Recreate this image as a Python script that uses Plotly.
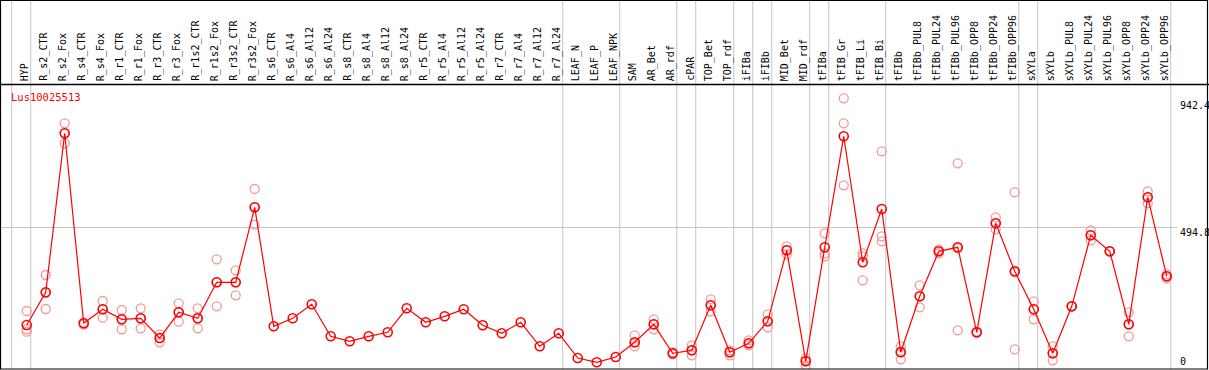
import plotly.graph_objects as go

categories = ["HYP", "R_s2_CTR", "R_s2_Fox", "R_s4_CTR", "R_s4_Fox", "R_r1_CTR", "R_r1_Fox",
              "R_r3_CTR", "R_r3_Fox", "R_r1s2_CTR", "R_r1s2_Fox", "R_r3s2_CTR", "R_r3s2_Fox",
              "R_s6_CTR", "R_s6_Al4", "R_s6_Al12", "R_s6_Al24", "R_s8_CTR", "R_s8_Al4",
              "R_s8_Al12", "R_s8_Al24", "R_r5_CTR", "R_r5_Al4", "R_r5_Al12", "R_r5_Al24",
              "R_r7_CTR", "R_r7_Al4", "R_r7_Al12", "R_r7_Al24", "LEAF_N", "LEAF_P", "LEAF_NPK",
              "SAM", "AR_Bet", "AR_rdf", "cPAR", "TOP_Bet", "TOP_rdf", "iFIBa", "iFIBb",
              "MID_Bet", "MID_rdf", "tFIBa", "tFIB_Gr", "tFIB_Li", "tFIB_Bi", "tFIBb",
              "tFIBb_PUL8", "tFIBb_PUL24", "tFIBb_PUL96", "tFIBb_OPP8", "tFIBb_OPP24",
              "tFIBb_OPP96", "sXYLa", "sXYLb", "sXYLb_PUL8", "sXYLb_PUL24", "sXYLb_PUL96",
              "sXYLb_OPP8", "sXYLb_OPP24", "sXYLb_OPP96"]

mean_values = [153.7, 268.6, 827.7, 159.6, 208.9, 173.7, 177.2, 107.9, 198.3, 177.2, 303.8,
               303.8, 567.5, 149.1, 177.2, 226.4, 113.9, 96.3, 113.9, 128.0, 212.4, 163.2,
               184.2, 208.9, 152.6, 124.5, 163.2, 78.8, 124.5, 37.6, 22.5, 41.1, 92.8, 156.1,
               54.1, 64.7, 222.9, 57.7, 89.3, 166.7, 416.3, 26.0, 426.9, 817.2, 374.1, 561.5,
               57.7, 254.6, 412.8, 426.9, 128.0, 511.3, 342.5, 208.9, 54.1, 219.4, 469.1,
               412.8, 156.1, 602.7, 324.9]

replicate_values = {
    "HYP": [202.9, 138.5, 130.1],
    "R_s2_CTR": [329.5, 209.9, 266.4],
    "R_s2_Fox": [862.9, 792.5, 827.7],
    "R_s4_CTR": [162.0, 155.0, 160.0],
    "R_s4_Fox": [238.0, 179.3, 208.9],
    "R_r1_CTR": [206.4, 138.5, 173.7],
    "R_r1_Fox": [212.4, 142.1, 177.2],
    "R_r3_CTR": [121.0, 92.8, 107.9],
    "R_r3_Fox": [230.0, 165.3, 198.3],
    "R_r1s2_CTR": [212.4, 142.1, 177.2],
    "R_r1s2_Fox": [384.7, 219.4, 303.8],
    "R_r3s2_CTR": [346.0, 258.1, 303.8],
    "R_r3s2_Fox": [631.9, 506.3, 567.5],
    "SAM": [117.4, 78.8, 92.8],
    "AR_Bet": [173.7, 138.5, 156.1],
    "AR_rdf": [57.7, 50.6, 54.1],
    "cPAR": [82.3, 47.1, 64.7],
    "TOP_Bet": [244.0, 201.8, 222.9],
    "TOP_rdf": [64.7, 47.1, 57.7],
    "iFIBa": [99.9, 82.3, 89.3],
    "iFIBb": [191.3, 145.6, 166.7],
    "MID_Bet": [430.4, 402.2, 416.3],
    "MID_rdf": [36.6, 12.0, 29.4],
    "tFIBa": [476.1, 395.2, 405.8],
    "tFIB_Gr": [950.8, 862.9, 644.9],
    "tFIB_Li": [405.8, 310.8, 395.2],
    "tFIB_Bi": [764.4, 465.5, 448.0],
    "tFIBb": [78.8, 33.1, 61.2],
    "tFIBb_PUL8": [293.2, 215.9, 254.6],
    "tFIBb_PUL24": [405.8, 412.8, 419.8],
    "tFIBb_PUL96": [722.2, 135.0, 423.5],
    "tFIBb_OPP8": [130.0, 126.0, 128.0],
    "tFIBb_OPP24": [532.3, 490.2, 511.3],
    "tFIBb_OPP96": [620.3, 68.2, 339.0],
    "sXYLa": [237.0, 173.7, 208.9],
    "sXYLb": [78.8, 29.5, 54.1],
    "sXYLb_PUL8": [219.4, 219.4, 219.4],
    "sXYLb_PUL24": [486.6, 451.5, 469.1],
    "sXYLb_PUL96": [412.8, 412.8, 412.8],
    "sXYLb_OPP8": [198.3, 113.9, 156.1],
    "sXYLb_OPP24": [623.8, 581.6, 602.7],
    "sXYLb_OPP96": [317.9, 324.9, 331.9],
}

# group boundaries: separator drawn after these categories (None = before first)
separators_after = [None, "HYP", "R_r7_Al24", "LEAF_NPK", "AR_rdf", "cPAR", "TOP_rdf", "iFIBa",
                    "iFIBb", "MID_rdf", "tFIBa", "tFIB_Bi", "tFIBb_OPP96", "sXYLa", "sXYLb_OPP96"]

tick_values = [942.4, 494.8, 0]
tick_labels = ["942.4", "494.8", "0"]
title_text = "Lus10025513"

idx = {c: i for i, c in enumerate(categories)}
xs = list(range(len(categories)))

rep_x, rep_y = [], []
for c, vals in replicate_values.items():
    for v in vals:
        rep_x.append(idx[c])
        rep_y.append(v)

FONT = "DejaVu Sans Mono"
W, H = 1209, 370
ML, MR, MT, MB = 1, 32, 86, 1
plot_h = H - MT - MB
plot_w = W - ML - MR

fig = go.Figure()
fig.add_trace(go.Scatter(
    x=rep_x, y=rep_y, mode="markers",
    marker=dict(symbol="circle-open", size=9, color="#f09a9a", line=dict(width=1.3, color="#f09a9a")),
    hoverinfo="skip", showlegend=False))
fig.add_trace(go.Scatter(
    x=xs, y=mean_values, mode="lines+markers",
    line=dict(color="#ff0000", width=1.2),
    marker=dict(symbol="circle-open", size=9, color="#ff0000", line=dict(width=1.6, color="#ff0000")),
    text=categories, showlegend=False))

shapes = []
for s in separators_after:
    base = -1 if s is None else idx[s]
    xv = base + 0.21
    shapes.append(dict(type="line", xref="x", yref="paper", x0=xv, x1=xv,
                       y0=0, y1=1 + MT / plot_h, line=dict(color="#c4c4c4", width=1), layer="below"))
# header separator line
shapes.append(dict(type="line", xref="paper", yref="paper", x0=-ML / plot_w, x1=(W - ML) / plot_w,
                   y0=1 + 1.5 / plot_h, y1=1 + 1.5 / plot_h, line=dict(color="#000000", width=1.5)))
# outer frame
shapes.append(dict(type="rect", xref="paper", yref="paper",
                   x0=-0.5 / plot_w, x1=(W - ML - 1.5) / plot_w,
                   y0=0, y1=1 + (MT - 0.5) / plot_h,
                   line=dict(color="#000000", width=1.2), fillcolor="rgba(0,0,0,0)"))

annotations = []
for i, c in enumerate(categories):
    annotations.append(dict(x=i - 0.08, xref="x", y=1 + 3 / plot_h, yref="paper", text=c,
                            textangle=-90, showarrow=False, xanchor="center", yanchor="bottom",
                            font=dict(family=FONT, size=10, color="#000000")))
label_shift = [-5, -5, 7]
for v, t, sh in zip(tick_values, tick_labels, label_shift):
    annotations.append(dict(x=(1178 - ML) / plot_w, xref="paper", y=v, yref="y", text=t,
                            showarrow=False, xanchor="left", yanchor="middle", yshift=sh,
                            font=dict(family=FONT, size=10, color="#000000")))
annotations.append(dict(x=8 / plot_w, xref="paper", y=1 - 11 / plot_h, yref="paper", text=title_text,
                        showarrow=False, xanchor="left", yanchor="middle",
                        font=dict(family=FONT, size=10.5, color="#ff0000")))

fig.update_layout(
    width=W, height=H,
    margin=dict(l=ML, r=MR, t=MT, b=MB, pad=0),
    paper_bgcolor="white", plot_bgcolor="white",
    xaxis=dict(range=[-1.353, 60.54], showgrid=False, zeroline=False, showticklabels=False,
               ticks="", showline=False, fixedrange=True),
    yaxis=dict(range=[-1.05, 994.0], tickvals=[494.8], showgrid=True, gridcolor="#c4c4c4",
               gridwidth=1, zeroline=False, showticklabels=False, ticks="", showline=False,
               fixedrange=True),
    shapes=shapes, annotations=annotations, showlegend=False,
)

fig.write_html("out.html", config={"displayModeBar": False},
               post_script="document.body.style.margin='0px';document.body.style.overflow='hidden';")
